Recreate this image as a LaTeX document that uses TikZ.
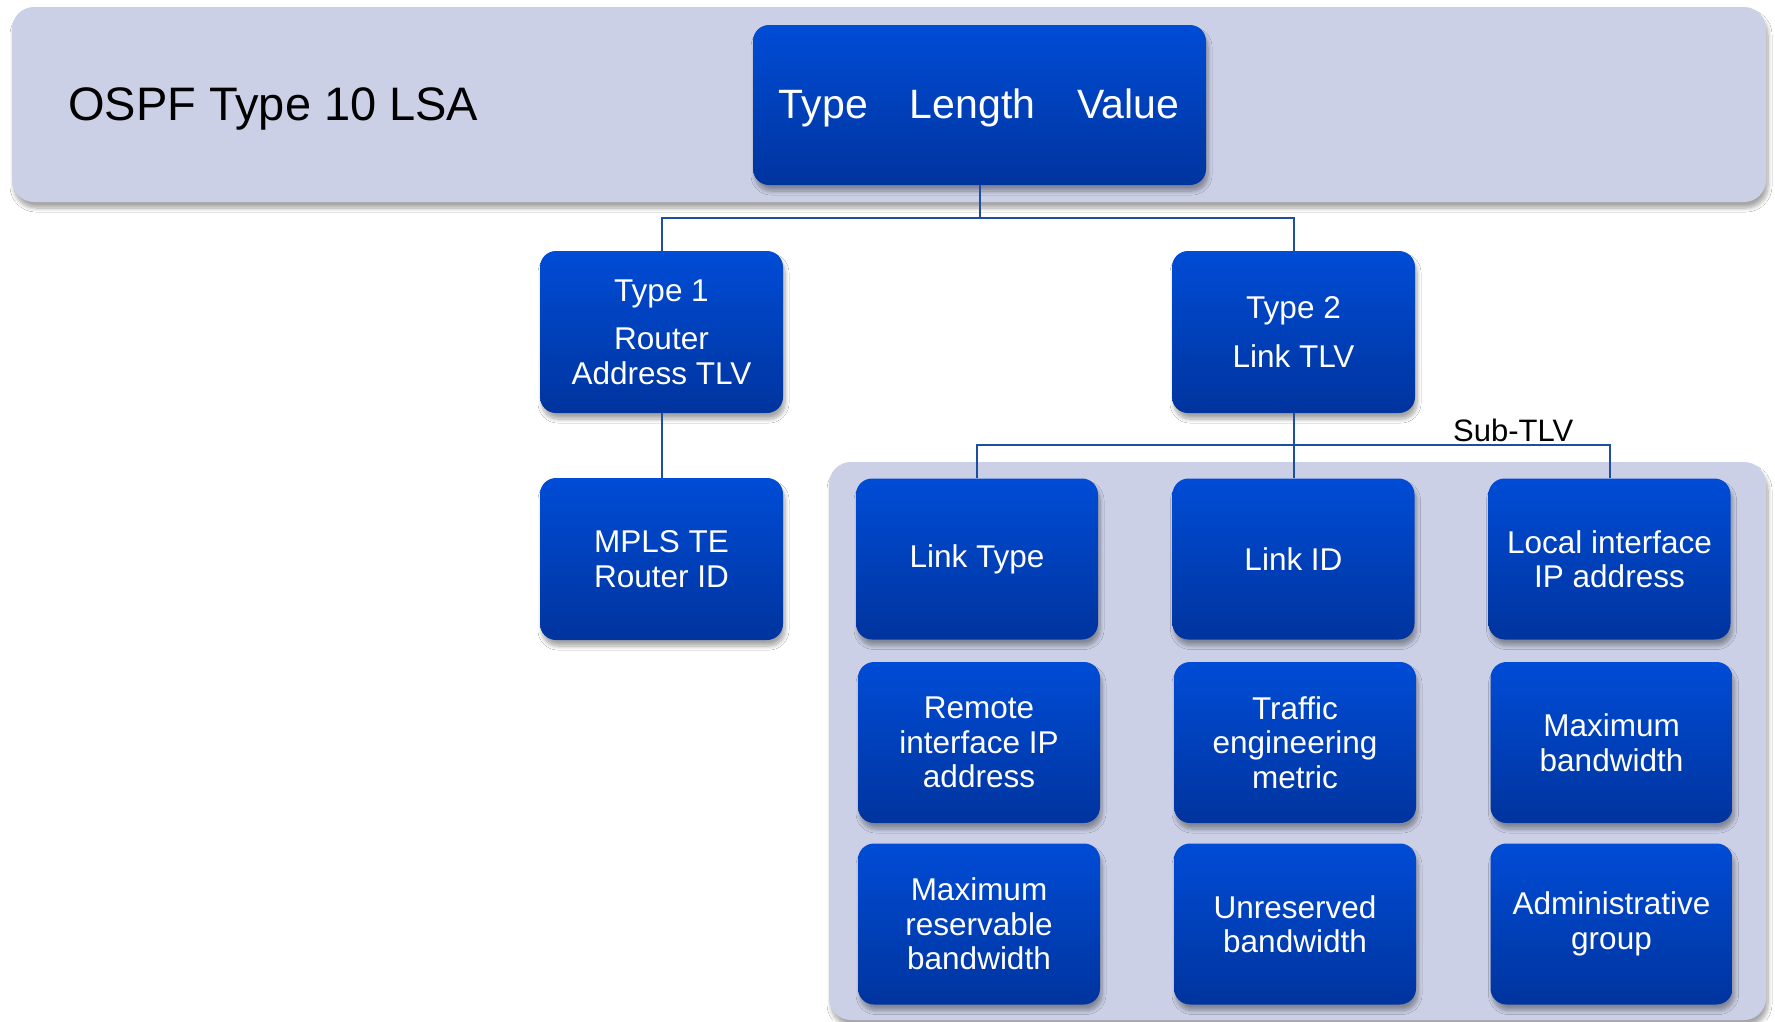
\documentclass[tikz,border=0pt]{standalone}
\usepackage{fontspec}
\setmainfont{Liberation Sans}
\usetikzlibrary{shadows.blur}
\definecolor{boxtop}{RGB}{0,76,214}
\definecolor{boxbot}{RGB}{0,52,158}
\definecolor{panelc}{RGB}{203,208,230}
\definecolor{connc}{RGB}{30,78,160}
\tikzset{
  bshadow/.style={blur shadow={shadow xshift=2pt, shadow yshift=-6pt, shadow blur radius=4pt, shadow blur steps=8, shadow opacity=35}},
  tlvbox/.style={rectangle, rounded corners=16pt, top color=boxtop, bottom color=boxbot, draw=none, text=white, align=center, minimum width=242pt, minimum height=161pt, inner sep=0pt, font=\fontsize{31.5}{34.5}\selectfont, bshadow},
  panelbg/.style={fill=panelc, rounded corners=22pt, bshadow},
  conline/.style={draw=connc, line width=2pt},
  plaintext/.style={inner sep=0pt, text=black},
}
\begin{document}
\begin{tikzpicture}[x=1pt, y=-1pt]
\useasboundingbox[fill=white] (0,0) rectangle (1775,1021);
% panels
\path[panelbg] (12,7) rectangle (1766,202);
\path[panelbg] (829,462) rectangle (1766,1020);
% title
\node[plaintext, anchor=base west, font=\fontsize{47}{52}\selectfont] (title) at (68,120) {OSPF Type 10 LSA};
% top TLV box
\node[tlvbox, minimum width=453pt, minimum height=160pt] (tlv) at (979.5,105) {};
\node[plaintext, text=white, anchor=base, font=\fontsize{41}{46}\selectfont] (tlvtext) at (979,118) {Type\hspace{42pt}Length\hspace{42pt}Value};
% level 2
\node[tlvbox, minimum width=243pt, minimum height=162pt] (t1) at (661.5,332) {Type 1\\[14pt]Router\\Address TLV};
\node[tlvbox, minimum width=243pt, minimum height=162pt] (t2) at (1293.5,332) {Type 2\\[14pt]Link TLV};
\node[tlvbox, minimum width=243pt, minimum height=162pt] (mpls) at (661.5,559) {MPLS TE\\Router ID};
% sub-TLV grid
\node[tlvbox] (lt) at (977,559) {Link Type};
\node[tlvbox] (lid) at (1293.5,559) {Link ID};
\node[tlvbox] (loc) at (1609.5,559) {Local interface\\IP address};
\node[tlvbox] (rem) at (979,742.5) {Remote\\interface IP\\address};
\node[tlvbox] (te) at (1295,742.5) {Traffic\\engineering\\metric};
\node[tlvbox] (maxbw) at (1611.5,742.5) {Maximum\\bandwidth};
\node[tlvbox] (mrb) at (979,924) {Maximum\\reservable\\bandwidth};
\node[tlvbox] (unres) at (1295,924) {Unreserved\\bandwidth};
\node[tlvbox] (adm) at (1611.5,924) {Administrative\\[1pt]group};
% connectors
\coordinate (tj) at (979.5,218);
\coordinate (sj) at (1293.5,445);
\draw[conline] (tlv.south) -- (tj);
\draw[conline] (t1.north) |- (tj) -| (t2.north);
\draw[conline] (t1.south) -- (mpls.north);
\draw[conline] (t2.south) -- (lid.north);
\draw[conline] (lt.north) |- (sj) -| (loc.north);
\node[plaintext, anchor=base west, font=\fontsize{31}{34}\selectfont] (sublabel) at (1453,441) {Sub-TLV};
\end{tikzpicture}
\end{document}
